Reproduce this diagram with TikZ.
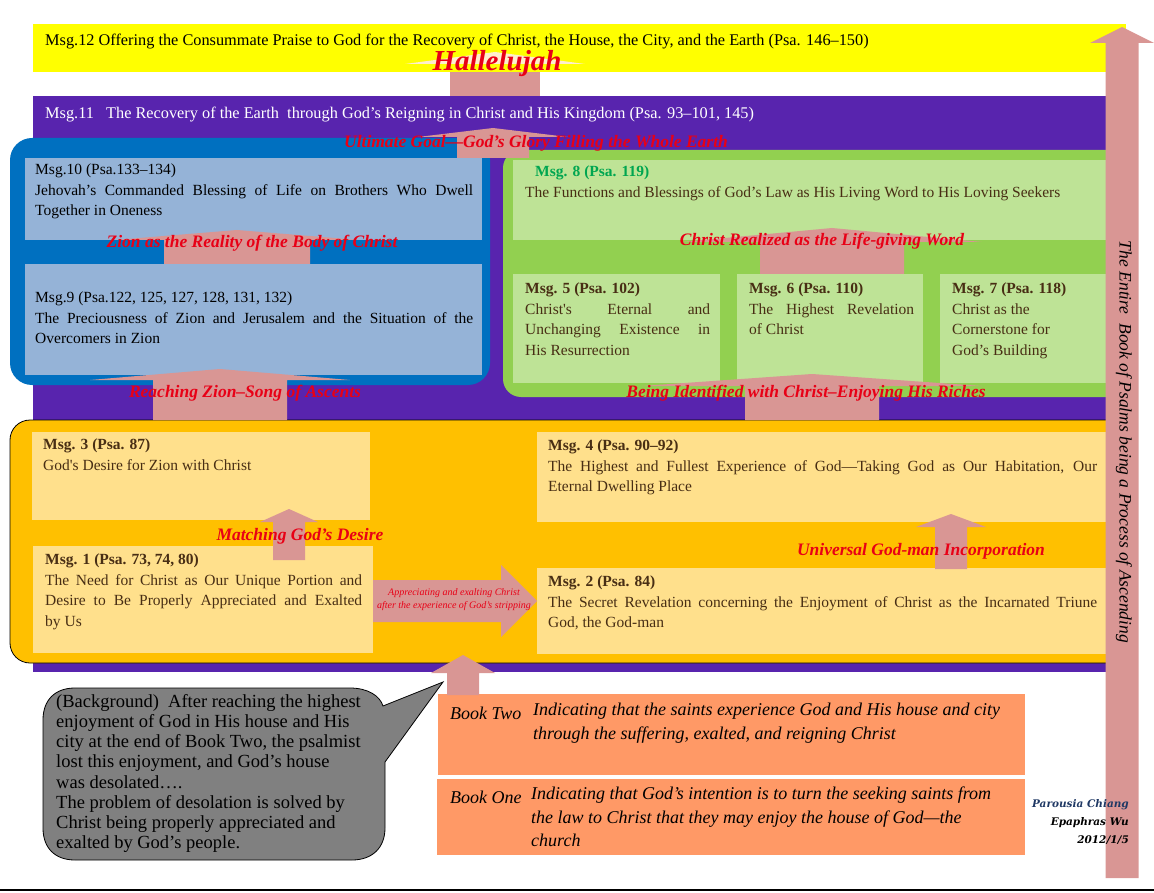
\documentclass[tikz,border=0pt]{standalone}
\usepackage{fontspec}
\setmainfont{Liberation Serif}
\newfontfamily\signfont{DejaVu Serif}
\usetikzlibrary{positioning}

\definecolor{praiseyellow}{RGB}{255,255,0}
\definecolor{kingpurple}{RGB}{88,36,174}
\definecolor{zionblue}{RGB}{0,112,192}
\definecolor{zionbox}{RGB}{149,179,215}
\definecolor{wordgreen}{RGB}{146,208,80}
\definecolor{wordbox}{RGB}{190,227,150}
\definecolor{desireorange}{RGB}{255,192,0}
\definecolor{desirebox}{RGB}{255,224,140}
\definecolor{ascpink}{RGB}{217,150,148}
\definecolor{headlight}{RGB}{255,238,205}
\definecolor{labelred}{RGB}{232,0,22}
\definecolor{booksalmon}{RGB}{255,153,102}
\definecolor{bubblegray}{RGB}{128,128,128}
\definecolor{msggreen}{RGB}{0,166,80}
\definecolor{msgbrown}{RGB}{72,46,20}
\definecolor{signnavy}{RGB}{31,56,100}

\newcommand{\msgfont}{\fontsize{15.5}{20.5}\selectfont}
\newcommand{\bandfont}{\fontsize{16.3}{20}\selectfont}
\newcommand{\labelfont}{\fontsize{17.5}{17.5}\selectfont\bfseries\itshape}
\newcommand{\bookfont}{\fontsize{18}{23.5}\selectfont\itshape}
\newcommand{\bubblefont}{\fontsize{18.5}{20.2}\selectfont}

% block arrow pointing up: centre x, bottom y, tip y, half shaft, half head, head length
\newcommand{\upblock}[6]{%
  \fill[ascpink] ({#1-#4},#2) -- ({#1-#4},{#3+#6}) -- ({#1-#5},{#3+#6}) -- (#1,#3)
    -- ({#1+#5},{#3+#6}) -- ({#1+#4},{#3+#6}) -- ({#1+#4},#2) -- cycle;}

\begin{document}
\begin{tikzpicture}[x=1pt,y=-1pt,
    panel/.style={anchor=north west, inner sep=0pt, outer sep=0pt},
    msgtext/.style={anchor=north west, inner sep=0pt, align=justify, font=\msgfont},
    redlabel/.style={text=labelred, font=\labelfont, inner sep=0pt}]
  \useasboundingbox (0,0) rectangle (1154,893);

  % top bands
  \node[panel, fill=praiseyellow, minimum width=1093pt, minimum height=48pt] (band12) at (33,24) {};
  \node[anchor=west, inner sep=0pt, font=\bandfont] (t12) at (45,42)
    {Msg.12 Offering the Consummate Praise to God for the Recovery of Christ, the House, the City, and the Earth (Psa. 146--150)};
  \node[panel, fill=kingpurple, minimum width=1073pt, minimum height=576pt] (band11) at (33,96) {};
  \node[anchor=west, inner sep=0pt, font=\bandfont, text=white] (t11) at (45,115)
    {Msg.11\ \ \ The Recovery of the Earth\ \ through God’s Reigning in Christ and His Kingdom (Psa. 93--101, 145)};

  % regions
  \node[panel, fill=zionblue, rounded corners=22pt, minimum width=480pt, minimum height=247pt] (zion) at (10,138) {};
  \node[panel, fill=wordgreen, rounded corners=18pt, minimum width=622pt, minimum height=247pt] (word) at (503,150) {};
  \node[panel, fill=desireorange, draw=black, line width=0.8pt, rounded corners=20pt,
    minimum width=1120pt, minimum height=243pt] (desire) at (10,420) {};

  % message boxes
  \node[panel, fill=zionbox, minimum width=457pt, minimum height=82pt] (m10) at (25,158) {};
  \node[panel, fill=zionbox, minimum width=457pt, minimum height=111pt] (m9) at (25,264) {};
  \node[panel, fill=wordbox, minimum width=593pt, minimum height=80pt] (m8) at (513,160) {};
  \node[panel, fill=wordbox, minimum width=207pt, minimum height=109pt] (m5) at (513,274) {};
  \node[panel, fill=wordbox, minimum width=186pt, minimum height=109pt] (m6) at (737,274) {};
  \node[panel, fill=wordbox, minimum width=166pt, minimum height=109pt] (m7) at (940,274) {};
  \node[panel, fill=desirebox, minimum width=338pt, minimum height=88pt] (m3) at (32,432) {};
  \node[panel, fill=desirebox, minimum width=340pt, minimum height=107pt] (m1) at (33,546) {};
  \node[panel, fill=desirebox, minimum width=569pt, minimum height=90pt] (m4) at (537,432) {};
  \node[panel, fill=desirebox, minimum width=569pt, minimum height=86pt] (m2) at (537,568) {};

  \node[msgtext, text width=438pt] (m10t) at (35,164)
    {Msg.10 (Psa.133--134)\\Jehovah’s Commanded Blessing of Life on Brothers Who Dwell\linebreak Together in Oneness};
  \node[msgtext, text width=438pt] (m9t) at (35,292)
    {Msg.9 (Psa.122, 125, 127, 128, 131, 132)\\The Preciousness of Zion and Jerusalem and the Situation of the\linebreak Overcomers in Zion};
  \node[msgtext, text width=575pt, text=msgbrown] (m8t) at (525,166)
    {\hspace*{10pt}\textcolor{msggreen}{\bfseries Msg. 8 (Psa. 119)}\\The Functions and Blessings of God’s Law as His Living Word to His Loving Seekers};
  \node[msgtext, text width=185pt, text=msgbrown] (m5t) at (525,283)
    {\textbf{Msg. 5 (Psa. 102)}\\Christ\textquotesingle s Eternal and\linebreak Unchanging Existence in\linebreak His Resurrection};
  \node[msgtext, text width=165pt, text=msgbrown] (m6t) at (749,283)
    {\textbf{Msg. 6 (Psa. 110)}\\The Highest Revelation\linebreak of Christ};
  \node[msgtext, text width=140pt, text=msgbrown, align=flush left] (m7t) at (952,283)
    {\textbf{Msg. 7 (Psa. 118)}\\Christ as the\\Cornerstone for\\God’s Building};
  \node[msgtext, text width=320pt, text=msgbrown] (m3t) at (43,439)
    {\textbf{Msg. 3 (Psa. 87)}\\God\textquotesingle s Desire for Zion with Christ};
  \node[msgtext, text width=317pt, text=msgbrown] (m1t) at (45,554)
    {\textbf{Msg. 1 (Psa. 73, 74, 80)}\\The Need for Christ as Our Unique Portion and\linebreak Desire to Be Properly Appreciated and Exalted\linebreak by Us};
  \node[msgtext, text width=549pt, text=msgbrown] (m4t) at (548,440)
    {\textbf{Msg. 4 (Psa. 90--92)}\\The Highest and Fullest Experience of God—Taking God as Our Habitation, Our\linebreak Eternal Dwelling Place};
  \node[msgtext, text width=549pt, text=msgbrown] (m2t) at (548,576)
    {\textbf{Msg. 2 (Psa. 84)}\\The Secret Revelation concerning the Enjoyment of Christ as the Incarnated Triune\linebreak God, the God-man};

  % ascending arrows
  \fill[ascpink] (450,72) rectangle (540,96);
  \fill[headlight] (405,64) -- (495,52) -- (585,64) -- cycle;
  \upblock{493}{158}{128}{36}{75}{9}
  \upblock{237}{264}{230}{73}{122}{10}
  \upblock{220}{420}{369}{67}{130}{11}
  \upblock{832}{274}{228}{72}{150}{14}
  \upblock{812}{420}{374}{67}{170}{12}
  \upblock{289}{560}{509}{16}{29}{13}
  \upblock{951}{569}{514}{16}{35}{13}
  \upblock{1122}{878}{27}{16.5}{32}{16}
  \fill[ascpink] (m1.east |- 0,580) -- (501,580) -- (501,565) -- (m2.west |- 0,601)
    -- (501,637) -- (501,622) -- (m1.east |- 0,622) -- cycle;

  % labels
  \node[text=labelred, font=\fontsize{29}{29}\selectfont\bfseries\itshape, inner sep=0pt] (hall) at (497,64) {Hallelujah};
  \node[redlabel] (goal) at (536,143) {Ultimate Goal—God’s Glory Filling the Whole Earth};
  \node[redlabel] (body) at (252,243) {Zion as the Reality of the Body of Christ};
  \node[redlabel] (reach) at (245,393) {Reaching Zion–Song of Ascents};
  \node[redlabel] (lifeword) at (822,241) {Christ Realized as the Life-giving Word};
  \node[redlabel] (riches) at (806,393) {Being Identified with Christ–Enjoying His Riches};
  \node[redlabel] (match) at (300,536) {Matching God’s Desire};
  \node[redlabel] (incorp) at (921,551) {Universal God-man Incorporation};
  \node[text=labelred, font=\fontsize{10}{13}\selectfont\itshape, align=center, inner sep=0pt] (exalt) at (454,600)
    {Appreciating\ and exalting Christ\\after the experience of God’s stripping};
  \node[rotate=-90, font=\fontsize{17.5}{17.5}\selectfont\itshape, inner sep=0pt] (ascend) at (1124,442)
    {The Entire\ \ Book of Psalms being a Process of Ascending};

  % books
  \node[panel, fill=booksalmon, minimum width=587pt, minimum height=81pt] (book2) at (438,694) {};
  \node[panel, fill=booksalmon, minimum width=588pt, minimum height=76pt] (book1) at (437,779) {};
  \upblock{463}{695}{655}{16}{32}{18}
  \node[anchor=west, inner sep=0pt, font=\bookfont] (b2lbl) at (450,713) {Book Two};
  \node[anchor=north west, inner sep=0pt, font=\bookfont, align=left] (b2txt) at (533,703)
    {Indicating that the saints experience God and His house and city\\through the suffering, exalted, and reigning Christ};
  \node[anchor=west, inner sep=0pt, font=\bookfont] (b1lbl) at (450,797) {Book One};
  \node[anchor=north west, inner sep=0pt, font=\bookfont, align=left] (b1txt) at (531,787)
    {Indicating that God’s intention is to turn the seeking saints from\\the law to Christ that they may enjoy the house of God—the\\church};

  % background bubble
  \filldraw[fill=bubblegray, draw=black, line width=0.8pt] (75,688) -- (350,688)
    .. controls (368,688) and (380,696) .. (383,706) -- (443,682) -- (385,762) -- (385,828)
    .. controls (385,848) and (372,860) .. (352,860) -- (75,860)
    .. controls (55,860) and (43,848) .. (43,828) -- (43,720)
    .. controls (43,700) and (55,688) .. (75,688) -- cycle;
  \node[anchor=north west, inner sep=0pt, font=\bubblefont, align=left] (bgtxt) at (56,694)
    {(Background)\ \ After reaching the highest\\enjoyment of God in His house and His\\city at the end of Book Two, the psalmist\\lost this enjoyment, and God’s house\\was desolated….\\The problem of desolation is solved by\\Christ being properly appreciated and\\exalted by God’s people.};

  % signature
  \node[anchor=north east, inner sep=0pt, align=right, font=\signfont\fontsize{10.5}{18}\selectfont\bfseries\itshape] (sign) at (1129,799)
    {\textcolor{signnavy}{Parousia Chiang}\\Epaphras Wu\\2012/1/5};

  \draw[line width=1.2pt] (0,890) -- (1154,890);
\end{tikzpicture}
\end{document}
